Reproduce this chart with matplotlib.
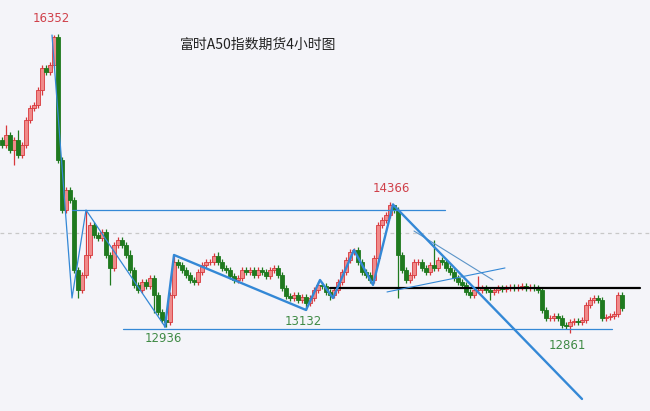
import numpy as np
import matplotlib.pyplot as plt

plt.rcParams['font.family'] = ['Noto Sans CJK SC', 'DejaVu Sans']

title = '富时A50指数期货4小时图'

# 4h closes
closes = [15064, 15181, 15005, 15123, 14947, 15064, 15357, 15497, 15532, 15708,
          15966, 15919, 16001, 16329, 14888, 14303, 14537, 14420, 13600, 13366,
          13542, 13776, 14127, 14010, 13975, 14045, 13776, 13624, 13893, 13952,
          13893, 13776, 13600, 13425, 13366, 13460, 13413, 13507, 13308, 13108,
          13015, 12991, 13308, 13694, 13659, 13600, 13542, 13483, 13460, 13577,
          13659, 13694, 13694, 13764, 13694, 13624, 13600, 13530, 13483, 13507,
          13600, 13577, 13600, 13542, 13600, 13577, 13530, 13600, 13624, 13542,
          13390, 13296, 13272, 13308, 13249, 13284, 13214, 13272, 13366, 13425,
          13413, 13343, 13308, 13366, 13460, 13577, 13717, 13811, 13834, 13694,
          13577, 13542, 13483, 13741, 14127, 14186, 14244, 14361, 14303, 13776,
          13600, 13483, 13542, 13694, 13694, 13624, 13577, 13659, 13624, 13717,
          13694, 13624, 13577, 13507, 13460, 13425, 13343, 13308, 13366, 13366,
          13390, 13366, 13343, 13366, 13390, 13378, 13390, 13401, 13390, 13401,
          13413, 13390, 13401, 13390, 13366, 13132, 13038, 13038, 13062, 13038,
          12956, 12945, 12991, 13003, 12991, 13015, 13190, 13249, 13272, 13249,
          13038, 13050, 13062, 13085, 13308, 13155]
first_open = 15123

# notable wick extremes: candle index -> price
spike_highs = {1: 15298, 4: 15240, 13: 16352, 21: 14303, 32: 13830, 43: 13776,
               54: 13811, 88: 13858, 98: 14366, 108: 13952, 119: 13530,
               154: 13343}
spike_lows = {3: 14830, 10: 15650, 19: 13272, 27: 13420, 38: 13100, 41: 12936,
              76: 13132, 82: 13249, 99: 13270, 122: 13249, 142: 12861}

# price labels: (candle index, price, above/below)
labels = [(13, 16352, 'up'), (98, 14366, 'up'), (41, 12936, 'down'),
          (76, 13132, 'down'), (142, 12861, 'down')]

# levels and drawn lines, (index, price)
dash_level = 14034
top_box = [(17.5, 14303), (110.75, 14303)]
bottom_box = [(30.25, 12909), (152.5, 12909)]
neck = [(82, 13390), (159.5, 13390)]
thin_zigzag = [(12.5, 16352), (17.5, 13272), (21, 14303), (40.75, 12936)]
thick_zigzag = [(40.75, 12936), (43, 13776), (76, 13132), (79.5, 13483),
                (82.75, 13272), (88, 13834), (92.75, 13425), (97.75, 14366)]
down_trend = [(97.75, 14366), (145, 12090)]
upper_thin = [(103, 14057), (122.75, 13483)]
rising_thin = [(96.25, 13343), (125.75, 13624)]

closes = np.array(closes, dtype=float)
opens = np.r_[first_open, closes[:-1]]
n = len(closes)
idx = np.arange(n)
highs = np.maximum(opens, closes) + 35
lows = np.minimum(opens, closes) - 35
for k, v in spike_highs.items():
    highs[k] = v
for k, v in spike_lows.items():
    lows[k] = v

bg = '#f4f4f9'
red_face, red_edge = '#f08a8a', '#d8383c'
green = '#1f7a1f'
blue = '#3488d6'

fig = plt.figure(figsize=(6.5, 4.11), dpi=100, facecolor=bg)
ax = fig.add_axes([0, 0, 1, 1], facecolor=bg)

ax.axhline(dash_level, color='#c8c8c8', lw=0.9, ls=(0, (3, 3)), zorder=1)

up = closes >= opens
wick_col = np.where(up, red_edge, green)
ax.vlines(idx, lows, highs, colors=wick_col, lw=0.9, zorder=2)
ax.bar(idx[up], (closes - opens)[up], bottom=opens[up], width=0.8,
       color=red_face, edgecolor=red_edge, linewidth=0.6, zorder=3)
ax.bar(idx[~up], (closes - opens)[~up], bottom=opens[~up], width=0.8,
       color=green, edgecolor=green, linewidth=0.6, zorder=3)

def draw(pts, **kw):
    xs, ys = zip(*pts)
    ax.plot(xs, ys, solid_capstyle='round', **kw)

draw(top_box, color=blue, lw=0.9, zorder=4)
draw(bottom_box, color=blue, lw=0.9, zorder=4)
draw(neck, color='black', lw=1.6, zorder=4)
draw(thin_zigzag, color=blue, lw=0.9, zorder=4)
draw(thick_zigzag, color=blue, lw=1.7, zorder=5)
draw(down_trend, color=blue, lw=1.7, zorder=5)
draw(upper_thin, color='#5b94c8', lw=0.8, zorder=4)
draw(rising_thin, color=blue, lw=0.8, zorder=4)

for k, price, side in labels:
    col = '#d0404a' if side == 'up' else '#3f8a45'
    dy = 10 if side == 'up' else -12
    va = 'bottom' if side == 'up' else 'center'
    ax.annotate(str(price), (k, price), xytext=(-3, dy),
                textcoords='offset pixels', ha='center', va=va,
                color=col, fontsize=8.5, family=['DejaVu Sans'])

ax.text(0.397, 0.89, title, transform=ax.transAxes, ha='center', va='center',
        fontsize=10, color='#222222')

ax.set_xlim(-0.5, 162)
ax.set_ylim(11949, 16762)
ax.axis('off')

fig.savefig('out.png', dpi=100, facecolor=bg)
